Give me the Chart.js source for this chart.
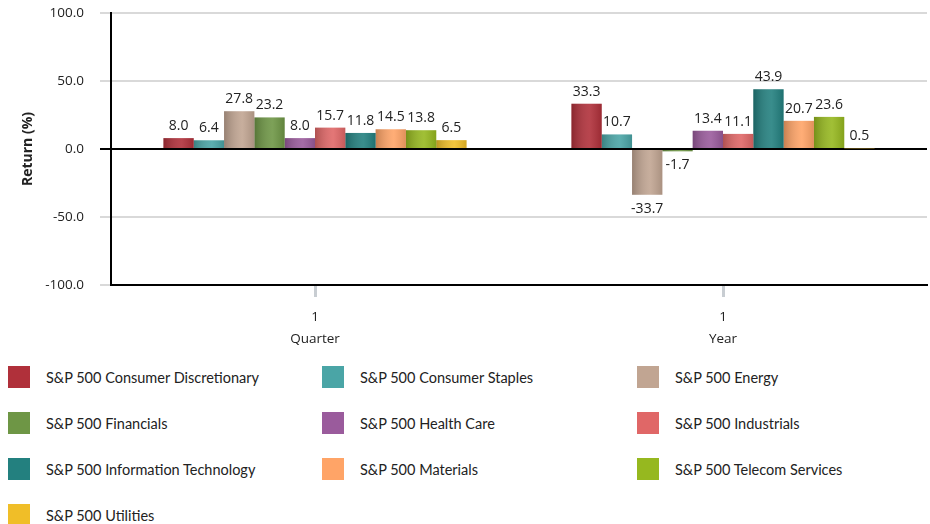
<!DOCTYPE html>
<html>
<head>
<meta charset="utf-8">
<script src="https://cdn.jsdelivr.net/npm/chart.js@4/dist/chart.umd.min.js"></script>
<style>
  html, body { margin: 0; padding: 0; background: #fff; overflow: hidden; }
  #wrap { width: 930px; height: 352px; position: relative; }
  #legend {
    display: grid;
    grid-template-columns: 314px 315px 1fr;
    grid-auto-rows: 46px;
    padding-left: 8px;
    margin-top: 2px;
    font-family: Lato, "Open Sans", sans-serif;
    font-size: 14.5px;
    color: #222;
  }
  .item { display: flex; align-items: center; }
  .box { width: 22px; height: 22px; margin-right: 16px; flex: none; }
</style>
</head>
<body>
<div id="wrap"><canvas id="myChart"></canvas></div>
<div id="legend"></div>
<script>
// chart data
let periods = [['1', 'Quarter'], ['1', 'Year']];
let sectorNames = [
    'S&P 500 Consumer Discretionary', 'S&P 500 Consumer Staples', 'S&P 500 Energy',
    'S&P 500 Financials', 'S&P 500 Health Care', 'S&P 500 Industrials',
    'S&P 500 Information Technology', 'S&P 500 Materials', 'S&P 500 Telecom Services',
    'S&P 500 Utilities'
];
let quarterReturns = [8.0, 6.4, 27.8, 23.2, 8.0, 15.7, 11.8, 14.5, 13.8, 6.5];
let yearReturns = [33.3, 10.7, -33.7, -1.7, 13.4, 11.1, 43.9, 20.7, 23.6, 0.5];
let yTicks = [-100, -50, 0, 50, 100];

let sectorColors = [
    '#b0303a', '#4aa5a6', '#c1a592', '#6e9645', '#9a5b9c',
    '#e06767', '#23807f', '#ffa467', '#96b81f', '#f0be28'
];

let datasets = sectorNames.map(function (name, i) {
    return {
        label: name,
        data: [quarterReturns[i], yearReturns[i]],
        backgroundColor: sectorColors[i],
        borderWidth: 0
    };
});

// shaded look on each bar
let barShading = {
    id: 'barShading',
    afterDatasetsDraw: function (chart) {
        let ctx = chart.ctx;
        chart.data.datasets.forEach(function (ds, i) {
            chart.getDatasetMeta(i).data.forEach(function (bar) {
                let left = bar.x - bar.width / 2;
                let top = Math.min(bar.y, bar.base);
                let h = Math.abs(bar.base - bar.y);
                let g = ctx.createLinearGradient(left, 0, left + bar.width, 0);
                g.addColorStop(0, 'rgba(0,0,0,0.22)');
                g.addColorStop(0.6, 'rgba(255,255,255,0.10)');
                g.addColorStop(1, 'rgba(0,0,0,0.12)');
                ctx.save();
                ctx.fillStyle = g;
                ctx.fillRect(left, top, bar.width, h);
                ctx.restore();
            });
        });
    }
};

// value labels above / below bars
let valueLabels = {
    id: 'valueLabels',
    afterDatasetsDraw: function (chart) {
        let ctx = chart.ctx;
        ctx.save();
        ctx.font = '14px "Open Sans"';
        ctx.fillStyle = '#222';
        ctx.textAlign = 'center';
        ctx.textBaseline = 'alphabetic';
        chart.data.datasets.forEach(function (ds, i) {
            chart.getDatasetMeta(i).data.forEach(function (bar, j) {
                let v = ds.data[j];
                let y = v >= 0 ? bar.y - 8 : bar.y + 18;
                ctx.fillText(v.toFixed(1), bar.x, y);
            });
        });
        ctx.restore();
    }
};

let ctx = document.getElementById('myChart').getContext('2d');
let myChart = new Chart(ctx, {
    type: 'bar',
    data: {
        labels: periods,
        datasets: datasets
    },
    plugins: [barShading, valueLabels],
    options: {
        responsive: true,
        maintainAspectRatio: false,
        animation: false,
        layout: { padding: { top: 0, right: 3, left: 0, bottom: 0 } },
        datasets: {
            bar: { categoryPercentage: 0.743, barPercentage: 1.0 }
        },
        plugins: {
            legend: { display: false },
            tooltip: { enabled: false }
        },
        scales: {
            x: {
                grid: {
                    offset: false,
                    drawOnChartArea: false,
                    drawTicks: true,
                    tickLength: 12,
                    tickColor: '#c8cdd2',
                    tickWidth: 3
                },
                border: { color: '#000', width: 2 },
                ticks: {
                    color: '#222',
                    padding: 9,
                    font: { family: '"Open Sans"', size: 13.5, lineHeight: 1.65 }
                },
                afterFit: function (scale) { scale.height = 67; }
            },
            y: {
                min: -100,
                max: 100,
                afterBuildTicks: function (scale) {
                    scale.ticks = yTicks.map(function (v) { return { value: v }; });
                },
                grid: {
                    color: function (c) { return c.tick && c.tick.value === 0 ? '#000' : '#d9d9d9'; },
                    lineWidth: 2,
                    tickLength: 11
                },
                border: { color: '#000', width: 2 },
                ticks: {
                    color: '#222',
                    padding: 16,
                    font: { family: '"Open Sans"', size: 13.5 },
                    callback: function (v) { return v.toFixed(1); }
                },
                title: {
                    display: true,
                    text: 'Return (%)',
                    color: '#222',
                    padding: { top: 20, bottom: 0 },
                    font: { family: '"Open Sans"', size: 14, weight: 'bold' }
                },
                afterFit: function (scale) {
                    scale.width = 111;
                    scale.paddingTop = 13;
                    scale.paddingBottom = 0;
                }
            }
        }
    }
});

// legend in three columns
let legendEl = document.getElementById('legend');
sectorNames.forEach(function (name, i) {
    let item = document.createElement('div');
    item.className = 'item';
    let box = document.createElement('span');
    box.className = 'box';
    box.style.background = sectorColors[i];
    let txt = document.createElement('span');
    txt.textContent = name;
    item.appendChild(box);
    item.appendChild(txt);
    legendEl.appendChild(item);
});
</script>
</body>
</html>
